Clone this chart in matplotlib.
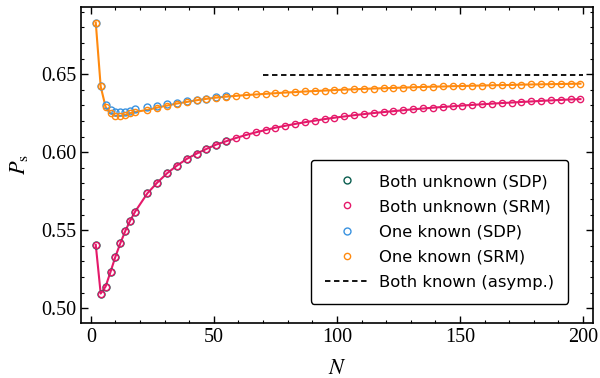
import matplotlib
matplotlib.use("Agg")
import matplotlib.pyplot as plt
from matplotlib.ticker import MultipleLocator

# ---- data ----
N_srm = [2, 4, 6, 8, 10, 12, 14, 16, 18,
         23, 27, 31, 35, 39, 43, 47, 51, 55, 59, 63, 67, 71, 75, 79, 83, 87,
         91, 95, 99, 103, 107, 111, 115, 119, 123, 127, 131, 135, 139, 143,
         147, 151, 155, 159, 163, 167, 171, 175, 179, 183, 187, 191, 195, 199]

both_unknown_srm = [0.5406, 0.5094, 0.5139, 0.5233, 0.5331, 0.5417, 0.5495, 0.5562, 0.5619,
                    0.5737, 0.5805, 0.5865, 0.5914, 0.5957, 0.5991, 0.6021, 0.6049, 0.6070,
                    0.6091, 0.6110, 0.6127, 0.6142, 0.6157, 0.6169, 0.6181, 0.6192, 0.6202,
                    0.6212, 0.6221, 0.6229, 0.6237, 0.6244, 0.6251, 0.6257, 0.6263, 0.6269,
                    0.6275, 0.6280, 0.6285, 0.6290, 0.6294, 0.6299, 0.6303, 0.6307, 0.6311,
                    0.6315, 0.6318, 0.6322, 0.6325, 0.6329, 0.6332, 0.6335, 0.6338, 0.6340]

one_known_srm = [0.6831, 0.6421, 0.6290, 0.6250, 0.6233, 0.6233, 0.6240, 0.6250, 0.6258,
                 0.6271, 0.6286, 0.6299, 0.6312, 0.6322, 0.6333, 0.6342, 0.6350, 0.6356,
                 0.6361, 0.6366, 0.6370, 0.6374, 0.6378, 0.6382, 0.6385, 0.6389, 0.6392,
                 0.6395, 0.6398, 0.6401, 0.6403, 0.6406, 0.6408, 0.6410, 0.6412, 0.6414,
                 0.6416, 0.6418, 0.6420, 0.6421, 0.6423, 0.6424, 0.6426, 0.6427, 0.6429,
                 0.6430, 0.6431, 0.6433, 0.6434, 0.6435, 0.6436, 0.6437, 0.6438, 0.6439]

N_sdp = [2, 4, 6, 8, 10, 12, 14, 16, 18, 23, 27, 31, 35, 39, 43, 47, 51, 55]

both_unknown_sdp = [0.5406, 0.5094, 0.5139, 0.5233, 0.5331, 0.5417, 0.5495, 0.5562, 0.5619,
                    0.5737, 0.5805, 0.5865, 0.5914, 0.5957, 0.5991, 0.6021, 0.6049, 0.6070]

one_known_sdp = [0.6831, 0.6421, 0.6305, 0.6271, 0.6258, 0.6256, 0.6260, 0.6265, 0.6274,
                 0.6288, 0.6297, 0.6308, 0.6318, 0.6327, 0.6336, 0.6344, 0.6351, 0.6357]

N_asym = [70, 200]
both_known_asym = [0.6497, 0.6497]

labels = ["Both unknown (SDP)", "Both unknown (SRM)", "One known (SDP)",
          "One known (SRM)", "Both known (asymp.)"]

c_green = "#0b5e4f"
c_pink = "#e5196a"
c_blue = "#3a93e0"
c_orange = "#ff8a0f"

plt.rcParams["mathtext.fontset"] = "stix"
plt.rcParams["font.family"] = ["Liberation Serif", "DejaVu Serif"]

fig = plt.figure(figsize=(6.0, 3.78), dpi=100)
ax = fig.add_axes([0.135, 0.145, 0.853, 0.8375])

ms_sdp = 5.0
ms_srm = 4.5

# lines through SRM points
ax.plot(N_srm, both_unknown_srm, color=c_pink, lw=1.5, zorder=2)
ax.plot(N_srm, one_known_srm, color=c_orange, lw=1.5, zorder=2)

h1, = ax.plot(N_sdp, both_unknown_sdp, ls="none", marker="o", ms=ms_sdp, mfc="none",
              mec=c_green, mew=1.0, zorder=3)
h2, = ax.plot(N_srm, both_unknown_srm, ls="none", marker="o", ms=ms_srm, mfc="none",
              mec=c_pink, mew=1.0, zorder=4)
h3, = ax.plot(N_sdp, one_known_sdp, ls="none", marker="o", ms=ms_sdp, mfc="none",
              mec=c_blue, mew=1.0, zorder=3)
h4, = ax.plot(N_srm, one_known_srm, ls="none", marker="o", ms=ms_srm, mfc="none",
              mec=c_orange, mew=1.0, zorder=4)
h5, = ax.plot(N_asym, both_known_asym, color="black", lw=1.3, ls=(0, (3, 2)), zorder=2)

ax.set_xlim(-4, 204)
ax.set_ylim(0.4904, 0.6933)

ax.xaxis.set_major_locator(MultipleLocator(50))
ax.xaxis.set_minor_locator(MultipleLocator(10))
ax.yaxis.set_major_locator(MultipleLocator(0.05))
ax.yaxis.set_minor_locator(MultipleLocator(0.01))
ax.yaxis.set_major_formatter(plt.FuncFormatter(lambda v, p: f"{v:.2f}"))

ax.tick_params(which="both", direction="in", top=True, right=True, labelsize=14.5)
ax.tick_params(which="major", length=5, width=1.0)
ax.tick_params(which="minor", length=2.5, width=0.8)
for s in ax.spines.values():
    s.set_linewidth(1.2)

ax.set_xlabel(r"$N$", fontsize=16, labelpad=9)
ax.set_ylabel(r"$P_{\mathrm{s}}$", fontsize=16, labelpad=8)

leg = ax.legend([h1, h2, h3, h4, h5], labels, loc="lower right",
                bbox_to_anchor=(0.968, 0.036), frameon=True, fancybox=True,
                edgecolor="black", framealpha=1.0, handlelength=2.7,
                handletextpad=0.6, borderpad=0.85, labelspacing=0.62,
                prop={"family": "DejaVu Sans", "size": 11.8})
leg.get_frame().set_linewidth(1.0)

fig.savefig("out.png", dpi=100)
